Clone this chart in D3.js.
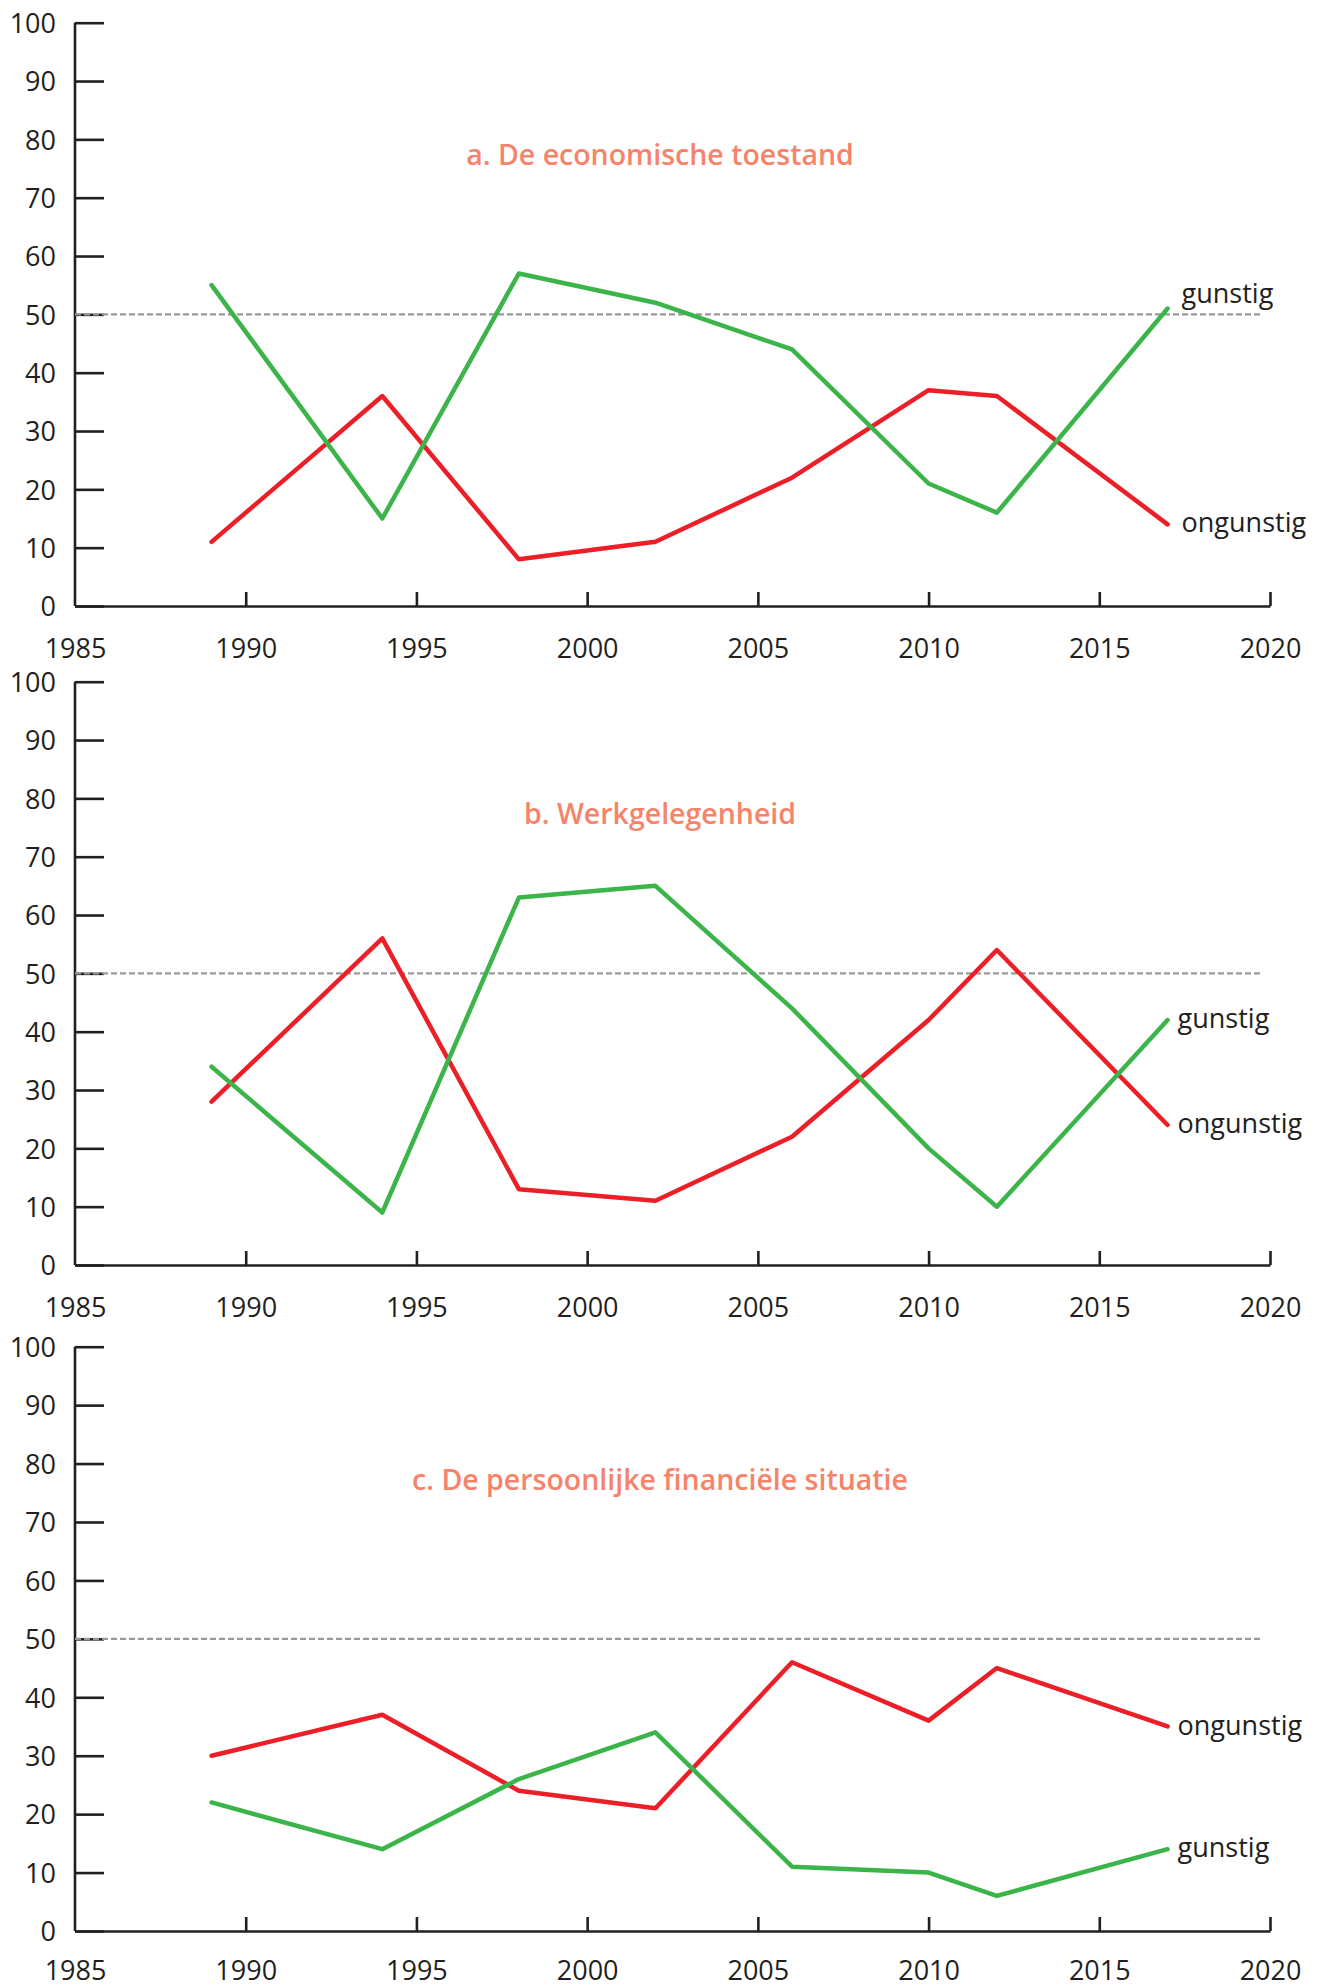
<!DOCTYPE html>
<html>
<head>
<meta charset="utf-8">
<script src="https://cdn.jsdelivr.net/npm/d3@7"></script>
<style>
  body { margin: 0; background: #fff; }
  svg text { font-family: "Open Sans", sans-serif; fill: #231f20; }
  .axis path, .axis line { stroke: #231f20; stroke-width: 2.6; }
  .title { fill: #f7836a !important; font-weight: 600; }
</style>
</head>
<body>
<svg id="chart" width="1332" height="1987"></svg>
<script>
(function () {
'use strict';

// survey years
var years = [1989, 1994, 1998, 2002, 2006, 2010, 2012, 2017];

// panel titles
var titles = [
    'a. De economische toestand',
    'b. Werkgelegenheid',
    'c. De persoonlijke financiële situatie'
];

// percentage "gunstig" per panel
var gunstigA = [55, 15, 57, 52, 44, 21, 16, 51];
var gunstigB = [34, 9, 63, 65, 44, 20, 10, 42];
var gunstigC = [22, 14, 26, 34, 11, 10, 6, 14];

// percentage "ongunstig" per panel
var ongunstigA = [11, 36, 8, 11, 22, 37, 36, 14];
var ongunstigB = [28, 56, 13, 11, 22, 42, 54, 24];
var ongunstigC = [30, 37, 24, 21, 46, 36, 45, 35];

var xTicks = [1985, 1990, 1995, 2000, 2005, 2010, 2015, 2020];
var yTicks = [0, 10, 20, 30, 40, 50, 60, 70, 80, 90, 100];

var GREEN = '#3bb44a';
var RED = '#ec1f28';

var svg = d3.select('#chart');

// top / bottom pixel of each panel's y range
var panels = [
    { top: 22.7, bottom: 606, title: titles[0], g: gunstigA, o: ongunstigA, labelX: 14, gunstigDy: -14, yearY: 42 },
    { top: 681.7, bottom: 1265, title: titles[1], g: gunstigB, o: ongunstigB, labelX: 10, gunstigDy: 0, yearY: 42 },
    { top: 1346.7, bottom: 1931, title: titles[2], g: gunstigC, o: ongunstigC, labelX: 10, gunstigDy: 0, yearY: 39 }
];

var x = d3.scaleLinear().domain([1985, 2020]).range([75, 1270]);

function drawPanel(p) {
    var y = d3.scaleLinear().domain([0, 100]).range([p.bottom, p.top]);
    var g = svg.append('g');

    // y axis, ticks pointing inward
    var yAxis = g.append('g')
        .attr('class', 'axis')
        .attr('transform', 'translate(' + x(1985) + ',0)')
        .call(d3.axisRight(y).tickValues(yTicks).tickSize(29).tickSizeOuter(0).tickFormat(d3.format('d')));
    yAxis.select('.domain').attr('d', 'M0,' + y(0) + 'V' + y(100));
    yAxis.selectAll('text')
        .attr('x', -19)
        .attr('text-anchor', 'end')
        .attr('dy', '0.36em')
        .style('font-size', '27px');

    // x axis, ticks pointing up
    var xAxis = g.append('g')
        .attr('class', 'axis')
        .attr('transform', 'translate(0,' + y(0) + ')')
        .call(d3.axisTop(x).tickValues(xTicks).tickSize(14).tickSizeOuter(0).tickFormat(d3.format('d')));
    xAxis.selectAll('.tick line').filter(function (d) { return d === 1985; }).remove();
    xAxis.selectAll('text')
        .attr('y', p.yearY)
        .attr('dy', '0.36em')
        .style('font-size', '27px');

    // 50% reference line
    g.append('line')
        .attr('x1', x(1985)).attr('x2', 1260)
        .attr('y1', y(50)).attr('y2', y(50))
        .attr('stroke', '#9a9a9a')
        .attr('stroke-width', 2.2)
        .attr('stroke-dasharray', '6,3');

    g.append('text')
        .attr('class', 'title')
        .attr('x', 660)
        .attr('y', y(77.3))
        .attr('dy', '0.36em')
        .attr('text-anchor', 'middle')
        .style('font-size', '28.5px')
        .text(p.title);

    var line = d3.line()
        .x(function (d, i) { return x(years[i]); })
        .y(function (d) { return y(d); });

    var series = [
        { name: 'ongunstig', values: p.o, color: RED, dy: 0 },
        { name: 'gunstig', values: p.g, color: GREEN, dy: p.gunstigDy }
    ];

    series.forEach(function (s) {
        g.append('path')
            .datum(s.values)
            .attr('d', line)
            .attr('fill', 'none')
            .attr('stroke', s.color)
            .attr('stroke-width', 4.5)
            .attr('stroke-linejoin', 'round')
            .attr('stroke-linecap', 'round');

        var last = s.values.length - 1;
        g.append('text')
            .attr('x', x(years[last]) + p.labelX)
            .attr('y', y(s.values[last]) + s.dy)
            .attr('dy', '0.3em')
            .style('font-size', '27px')
            .text(s.name);
    });
}

panels.forEach(drawPanel);
})();
</script>
</body>
</html>
